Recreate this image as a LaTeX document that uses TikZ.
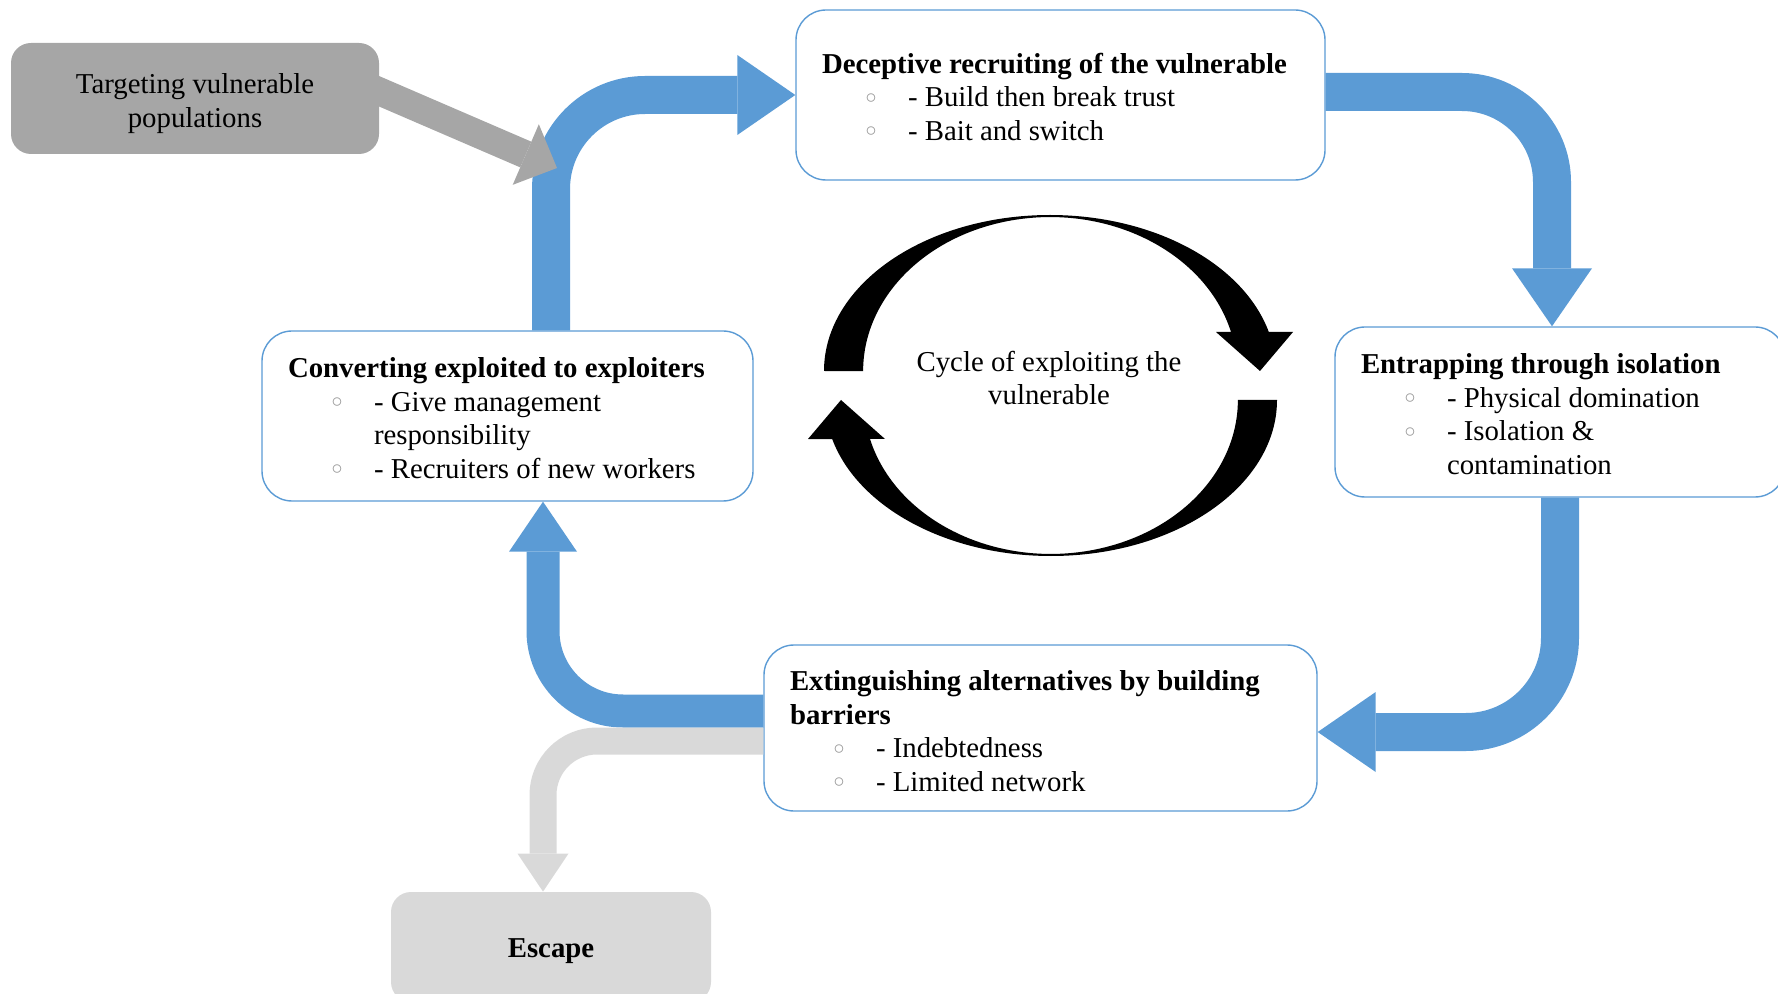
\documentclass[tikz,border=0pt]{standalone}
\usepackage{fontspec}
\setmainfont{Liberation Serif}
\usepackage{xcolor}
\usetikzlibrary{arrows.meta}
\definecolor{stageblue}{HTML}{5B9BD5}
\definecolor{darkgrey}{HTML}{A6A6A6}
\definecolor{lightgrey}{HTML}{D9D9D9}
\definecolor{bulletgrey}{HTML}{9A9A9A}
\newcommand{\bul}{\makebox[21.25pt][l]{\raisebox{1.75pt}{\fontsize{11}{11}\selectfont\color{bulletgrey}$\circ$}}}
\newcommand{\itm}[1]{\\\hspace*{21.75pt}\bul#1}
\newcommand{\cont}[1]{\\\hspace*{43pt}#1}
\tikzset{
  stage/.style={draw=stageblue, line width=0.7pt, fill=white, rounded corners=15pt,
    align=flush left, inner xsep=13pt, minimum height=85pt,
    execute at begin node={\rule{0pt}{12pt}}},
  greybox/.style={rounded corners=10pt, align=center},
  bigarrow/.style={draw=stageblue, line width=19pt, rounded corners=47pt,
    -{Triangle[length=29pt,width=40pt,line width=0pt]}},
}
\begin{document}
\begin{tikzpicture}[x=0.5pt, y=-0.5pt, font=\fontsize{14.4}{16.8}\selectfont]
  \clip (0,0) rectangle (1778,994);
  % stages of the cycle
  \node[stage, text width=238.5pt] (dec) at (1060.5,95)
    {\textbf{Deceptive recruiting of the vulnerable}\itm{- Build then break trust}\itm{- Bait and switch}};
  \node[stage, text width=199pt] (ent) at (1560,412)
    {\textbf{Entrapping through isolation}\itm{- Physical domination}\itm{- Isolation \&}\cont{contamination}};
  \node[stage, text width=219.5pt] (conv) at (507.5,416)
    {\textbf{Converting exploited to exploiters}\itm{- Give management}\cont{responsibility}\itm{- Recruiters of new workers}};
  \node[stage, text width=250.5pt, minimum height=83pt] (ext) at (1040.5,728)
    {\rule{0pt}{13pt}\textbf{Extinguishing alternatives by building}\\\textbf{barriers}\itm{- Indebtedness}\itm{- Limited network}};
  \node[greybox, fill=darkgrey, minimum width=184pt, minimum height=55.5pt] (targ) at (195,98.5)
    {\rule{0pt}{15pt}Targeting vulnerable\\populations};
  \node[greybox, fill=lightgrey, minimum width=160pt, minimum height=55pt, text height=14pt] (esc) at (551,947)
    {\textbf{Escape}};
  \node[align=center] (cyc) at (1049,378) {Cycle of exploiting the\\vulnerable};
  \coordinate (hit) at (557,168);

  % block arrows between the stages
  \draw[bigarrow] ([xshift=21.75pt]conv.north) |- (dec.west);
  \draw[bigarrow, rounded corners=45pt] ([yshift=1.5pt]dec.east) -| ([xshift=-4pt]ent.north);
  \draw[bigarrow] (ent.south) |- ([yshift=-2pt]ext.east);
  \draw[bigarrow, line width=16.5pt, rounded corners=40pt,
    -{Triangle[length=25pt,width=34pt,line width=0pt]}]
    ([yshift=8.5pt]ext.west) -| ([xshift=17.75pt]conv.south);
  \draw[draw=lightgrey, line width=13.5pt, rounded corners=27pt,
    -{Triangle[length=19pt,width=25.5pt,line width=0pt]}]
    ([yshift=-6.5pt]ext.west) -| ([xshift=-4pt]esc.north);
  \draw[draw=darkgrey, line width=14pt,
    -{Triangle[length=17pt,width=33pt,line width=0pt]}]
    ([xshift=-8pt,yshift=7pt]targ.east) -- (hit);

  % the two black half-circle arrows
  \foreach \r in {0,180}
  {\fill[black, rotate around={\r:(1050.5,385.5)}] (824,371)
     arc[start angle=180, end angle=345.5, x radius=226, y radius=156]
     -- (1293,332) -- (1260,371) -- (1216,332) -- (1231,332)
     arc[start angle=345.3, end angle=180, x radius=187, y radius=154] -- cycle;}
\end{tikzpicture}
\end{document}
